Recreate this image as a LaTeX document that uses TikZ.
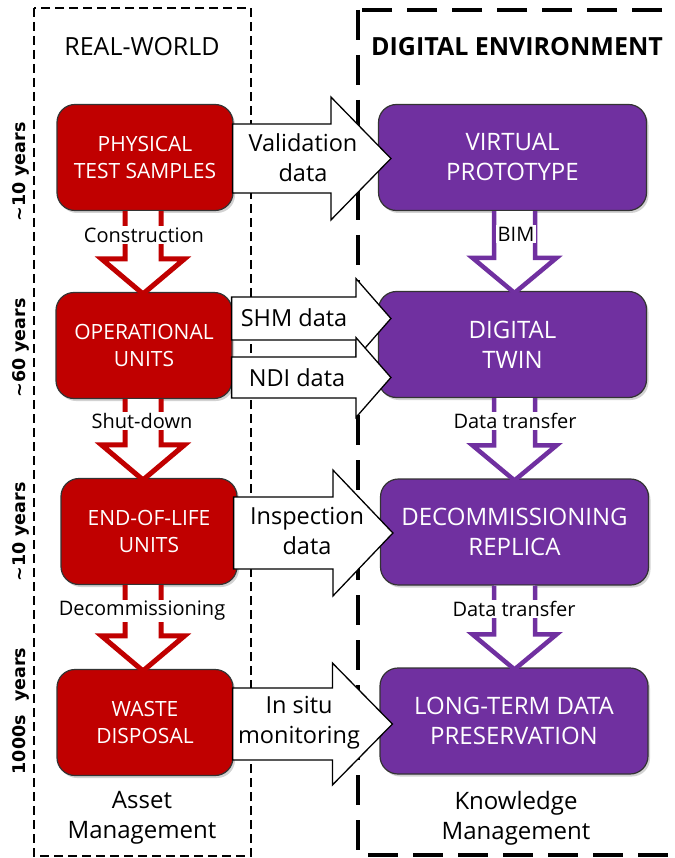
\documentclass[tikz,border=0pt]{standalone}
\usepackage{fontspec}
\setmainfont{Open Sans}
\newfontfamily\axisfont{DejaVu Sans}
\usetikzlibrary{calc,shadows}
\definecolor{boxred}{HTML}{C00000}
\definecolor{boxpurple}{HTML}{7030A0}
% horizontal block arrow: #1 start, #2 target, #3 shaft half, #4 head half, #5 head length
\newcommand{\hblk}[5]{%
  \draw[harrow] let \p1=(#1), \p2=(#2) in
    (\x1,\y1+#3pt) -- (\x2-#5pt+13pt,\y1+#3pt) -- (\x2-#5pt+13pt,\y1+#4pt)
    -- (\x2+13pt,\y1) -- (\x2-#5pt+13pt,\y1-#4pt) -- (\x2-#5pt+13pt,\y1-#3pt)
    -- (\x1,\y1-#3pt) -- cycle;}
% vertical open block arrow: #1 style, #2 start, #3 target, #4 shaft half, #5 head half, #6 head length
\newcommand{\vblk}[6]{%
  \draw[#1] let \p1=(#2), \p2=(#3) in
    (\x1-#4pt,\y1) -- (\x1-#4pt,\y2+#6pt-2pt) -- (\x1-#5pt,\y2+#6pt-2pt)
    -- (\x1,\y2-2pt) -- (\x1+#5pt,\y2+#6pt-2pt) -- (\x1+#4pt,\y2+#6pt-2pt)
    -- (\x1+#4pt,\y1);}
\begin{document}
\begin{tikzpicture}[x=1pt,y=-1pt,
  every node/.style={inner sep=0pt},
  box/.style={draw=black!80, line width=1.2pt, rounded corners=18pt,
    minimum height=106pt, text=white, align=center,
    drop shadow={shadow xshift=2pt,shadow yshift=-2.5pt,opacity=0.35}},
  redbox/.style={box, fill=boxred, minimum width=176pt,
    font=\fontsize{21}{27}\selectfont},
  purplebox/.style={box, fill=boxpurple, minimum width=268pt,
    font=\fontsize{24}{30}\selectfont},
  harrow/.style={draw=black, line width=1.3pt, fill=white, line join=miter},
  vred/.style={draw=boxred, line width=5pt, fill=white, line join=miter, miter limit=10},
  vpurple/.style={draw=boxpurple, line width=4.5pt, fill=white, line join=miter, miter limit=10},
  arrowtext/.style={align=center, font=\fontsize{23.5}{30}\selectfont},
  steplabel/.style={fill=white, inner sep=1.5pt, font=\fontsize{20}{24}\selectfont},
  heading/.style={font=\fontsize{25}{30}\selectfont},
  axislabel/.style={rotate=90, font=\axisfont\bfseries\fontsize{17.5}{20}\selectfont},
  footer/.style={align=center, font=\fontsize{24}{30}\selectfont}]
\useasboundingbox (0,0) rectangle (674,858);
\fill[white] (0,0) rectangle (674,858);

% frames
\draw[line width=1.5pt, dash pattern=on 9pt off 5pt] (34,8) rectangle (251,856);
\draw[line width=3.5pt, dash pattern=on 30pt off 15pt] (358,10) rectangle (700,855);

% headings
\node[heading] (hreal) at (142,47) {REAL-WORLD};
\node[heading, font=\bfseries\fontsize{25}{30}\selectfont] (hdig) at (517,47) {DIGITAL ENVIRONMENT};

% boxes
\node[redbox] (r1) at (145,157.5) {PHYSICAL\\TEST SAMPLES};
\node[redbox] (r2) at (144,345.5) {OPERATIONAL\\UNITS};
\node[redbox] (r3) at (149,531.5) {END-OF-LIFE\\UNITS};
\node[redbox] (r4) at (145,722.5) {WASTE\\DISPOSAL};
\node[purplebox] (p1) at (512.5,157.5) {VIRTUAL\\PROTOTYPE};
\node[purplebox] (p2) at (512.5,344.5) {DIGITAL\\TWIN};
\node[purplebox] (p3) at (514.5,532) {DECOMMISSIONING\\REPLICA};
\node[purplebox] (p4) at (514,721) {LONG-TERM DATA\\PRESERVATION};

% horizontal block arrows
\hblk{$(r1.east)+(-1,1)$}{p1.west}{34.5}{61.5}{60}
\hblk{$(r2.east)+(-1,-27)$}{p2.west}{21.5}{40}{35}
\hblk{$(r2.east)+(-1,32)$}{p2.west}{20.5}{40}{35}
\hblk{$(r3.east)+(-4,1.5)$}{p3.west}{36}{63}{60}
\hblk{$(r4.east)+(-1,1.5)$}{p4.west}{36}{61}{60}

\node[arrowtext] (t1) at (303,158) {Validation\\data};
\node[arrowtext] (t2) at (294,318) {SHM data};
\node[arrowtext] (t3) at (297,378) {NDI data};
\node[arrowtext] (t4) at (307,531) {Inspection\\data};
\node[arrowtext] (t5) at (299,723) {In situ\\monitoring};

% vertical open block arrows
\coordinate (rx) at (143,0);
\coordinate (px) at (514.5,0);
\vblk{vred}{r1.south -| rx}{r2.north -| rx}{18}{41.5}{35}
\vblk{vred}{r2.south -| rx}{r3.north -| rx}{18}{41.5}{35}
\vblk{vred}{r3.south -| rx}{r4.north -| rx}{18}{41.5}{35}
\vblk{vpurple}{p1.south -| px}{p2.north -| px}{20.5}{42}{35}
\vblk{vpurple}{p2.south -| px}{p3.north -| px}{20.5}{42}{35}
\vblk{vpurple}{p3.south -| px}{p4.north -| px}{20.5}{42}{35}

\node[steplabel] (s1) at (144,235) {Construction};
\node[steplabel] (s2) at (142,421) {Shut-down};
\node[steplabel] (s3) at (142,611) {Decommissioning};
\node[steplabel] (s4) at (516,234) {BIM};
\node[steplabel] (s5) at (515,421) {Data transfer};
\node[steplabel] (s6) at (514,609) {Data transfer};

% time axis labels
\node[axislabel] (a1) at (21,172) {\textasciitilde10 years};
\node[axislabel] (a2) at (21,348) {\textasciitilde60 years};
\node[axislabel] (a3) at (21,532) {\textasciitilde10 years};
\node[axislabel] (a4) at (21,711) {1000s\hspace{0.75em}years};

% footers
\node[footer] (f1) at (142,818) {Asset\\Management};
\node[footer] (f2) at (516,818) {Knowledge\\Management};
\end{tikzpicture}
\end{document}
